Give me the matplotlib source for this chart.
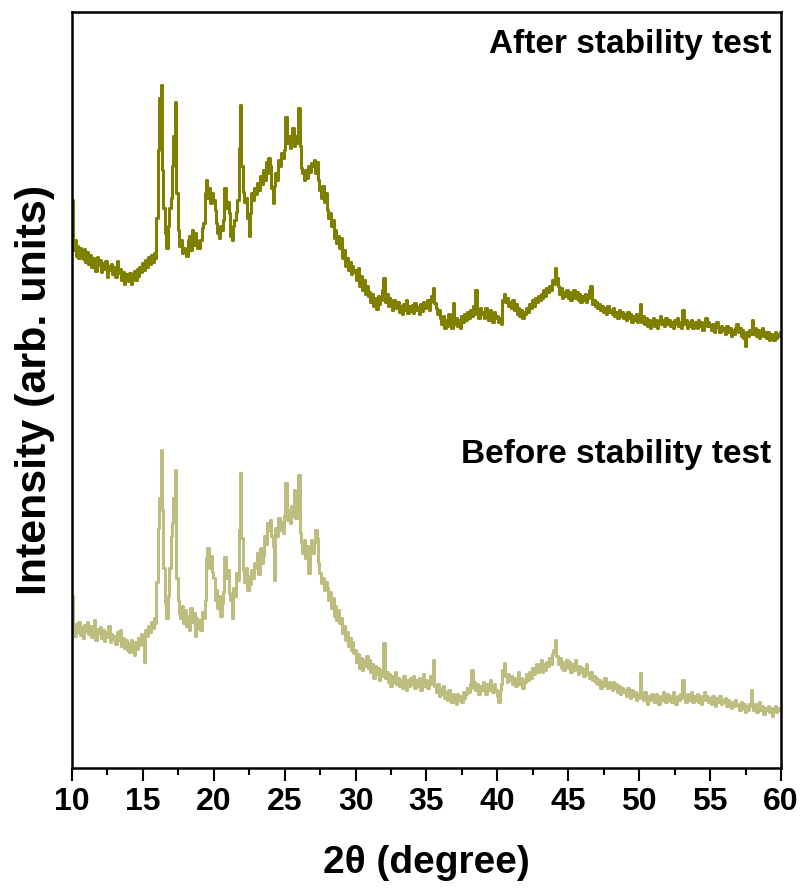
import numpy as np
import matplotlib.pyplot as plt
from matplotlib.ticker import MultipleLocator

# 2theta scan, 0.1 degree step
two_theta = np.round(np.arange(10.0, 60.05, 0.1), 1)

# intensities (arb. units), one row per degree
after_test = [
    198, 148, 158, 142, 152, 140, 150, 145, 139, 149,
    136, 146, 134, 143, 131, 140, 137, 127, 141, 133,
    138, 126, 135, 129, 137, 121, 132, 128, 134, 124,
    131, 121, 137, 125, 129, 118, 126, 114, 124, 120,
    117, 125, 114, 123, 127, 118, 129, 122, 131, 126,
    135, 128, 138, 131, 141, 134, 143, 136, 145, 140,
    180, 248, 300, 313, 228, 190, 165, 150, 172, 190,
    200, 232, 262, 296, 205, 168, 152, 158, 145, 150,
    148, 142, 158, 162, 148, 168, 153, 165, 158, 150,
    150, 158, 170, 175, 205, 218, 200, 210, 195, 205,
    198, 188, 175, 165, 160, 172, 168, 178, 210, 190,
    196, 185, 162, 158, 172, 178, 186, 198, 250, 293,
    232, 206, 196, 200, 180, 162, 185, 205, 198, 210,
    204, 215, 208, 222, 214, 228, 218, 236, 225, 240,
    232, 210, 195, 212, 225, 218, 238, 232, 245, 240,
    248, 281, 255, 262, 250, 258, 270, 252, 262, 255,
    290, 252, 230, 225, 218, 228, 220, 232, 226, 235,
    232, 238, 225, 236, 218, 208, 200, 212, 196, 205,
    188, 180, 185, 172, 178, 160, 168, 155, 162, 150,
    160, 140, 148, 132, 140, 128, 136, 124, 132, 126,
    128, 118, 130, 112, 122, 108, 118, 104, 112, 102,
    106, 96, 104, 92, 100, 89, 102, 94, 98, 108,
    120, 96, 104, 92, 100, 96, 88, 98, 94, 90,
    96, 86, 92, 84, 94, 88, 98, 85, 92, 87,
    93, 85, 95, 88, 91, 84, 94, 87, 96, 90,
    92, 98, 88, 96, 102, 110, 95, 90, 84, 88,
    80, 74, 82, 70, 78, 72, 84, 76, 70, 95,
    74, 80, 72, 78, 70, 82, 76, 84, 78, 86,
    80, 88, 82, 92, 84, 108, 86, 80, 90, 84,
    86, 80, 90, 84, 78, 88, 82, 76, 86, 80,
    82, 76, 80, 74, 98, 104, 96, 100, 92, 96,
    90, 98, 88, 94, 84, 90, 82, 88, 80, 86,
    84, 90, 86, 94, 90, 98, 92, 100, 96, 102,
    98, 104, 100, 108, 102, 110, 106, 112, 108, 118,
    114, 130, 120, 112, 104, 110, 100, 106, 102, 108,
    100, 106, 98, 104, 108, 100, 106, 98, 104, 96,
    102, 98, 104, 96, 100, 108, 112, 94, 98, 92,
    96, 90, 94, 88, 92, 86, 90, 84, 92, 86,
    88, 84, 90, 82, 86, 80, 88, 82, 86, 80,
    84, 78, 86, 80, 84, 76, 82, 78, 84, 76,
    80, 94, 76, 82, 74, 80, 72, 78, 70, 76,
    80, 72, 78, 70, 76, 82, 74, 78, 72, 80,
    74, 78, 72, 76, 70, 78, 74, 80, 72, 76,
    70, 88, 74, 78, 70, 76, 72, 78, 70, 74,
    76, 70, 78, 72, 76, 68, 74, 80, 72, 76,
    72, 68, 74, 66, 72, 76, 70, 66, 72, 68,
    70, 64, 72, 66, 70, 62, 68, 64, 70, 74,
    66, 70, 62, 68, 60, 52, 66, 62, 68, 64,
    78, 64, 70, 62, 68, 60, 66, 70, 62, 66,
    60, 66, 58, 64, 62, 58, 66, 60, 64, 62,
    66,
]

before_test = [
    172, 140, 132, 144, 136, 146, 133, 141, 130, 143,
    137, 146, 134, 142, 131, 140, 148, 128, 139, 135,
    141, 130, 138, 127, 136, 131, 142, 126, 134, 129,
    132, 124, 136, 128, 138, 122, 130, 120, 128, 118,
    125, 116, 128, 120, 113, 126, 119, 130, 123, 134,
    128, 106, 138, 132, 142, 136, 146, 140, 150, 145,
    186, 240, 270, 318, 258, 200, 165, 150, 172, 200,
    232, 245, 270, 298, 190, 168, 155, 150, 162, 145,
    158, 142, 152, 138, 160, 146, 155, 132, 150, 140,
    148, 138, 156, 150, 168, 210, 220, 200, 212, 196,
    190, 168, 178, 160, 172, 152, 165, 176, 211, 190,
    198, 175, 168, 150, 180, 172, 195, 188, 238, 295,
    230, 198, 186, 200, 178, 192, 184, 198, 190, 205,
    200, 215, 194, 220, 205, 212, 232, 224, 245, 238,
    248, 232, 222, 188, 240, 232, 250, 238, 246, 235,
    252, 285, 248, 258, 245, 262, 252, 278, 250, 258,
    293, 235, 225, 215, 228, 210, 222, 195, 218, 228,
    215, 225, 238, 230, 205, 195, 185, 190, 178, 186,
    180, 168, 176, 160, 170, 152, 162, 148, 158, 145,
    150, 135, 142, 128, 136, 122, 130, 118, 126, 115,
    118, 106, 114, 100, 110, 98, 108, 102, 112, 100,
    108, 96, 104, 90, 102, 94, 100, 88, 98, 92,
    125, 90, 96, 86, 94, 82, 92, 86, 96, 84,
    90, 82, 88, 80, 92, 84, 78, 88, 82, 90,
    84, 92, 80, 88, 82, 90, 78, 86, 94, 82,
    88, 80, 86, 92, 84, 108, 82, 76, 84, 72,
    80, 74, 82, 70, 76, 68, 78, 72, 66, 74,
    70, 64, 74, 68, 72, 66, 76, 70, 74, 80,
    76, 84, 98, 80, 86, 78, 84, 74, 82, 78,
    86, 80, 74, 84, 78, 88, 80, 76, 84, 78,
    72, 66, 78, 84, 98, 105, 92, 86, 94, 88,
    92, 84, 90, 82, 88, 96, 84, 90, 80, 88,
    86, 94, 88, 96, 90, 100, 94, 98, 104, 96,
    100, 108, 96, 104, 98, 106, 102, 110, 104, 114,
    118, 128, 112, 104, 110, 100, 106, 98, 104, 108,
    100, 106, 96, 104, 98, 108, 100, 94, 102, 96,
    100, 92, 98, 104, 94, 90, 96, 88, 92, 86,
    90, 84, 88, 80, 86, 82, 90, 84, 80, 86,
    82, 78, 86, 80, 84, 76, 82, 74, 80, 76,
    78, 72, 80, 74, 70, 78, 72, 76, 68, 74,
    70, 95, 74, 68, 76, 70, 64, 72, 68, 74,
    72, 66, 74, 70, 64, 72, 68, 76, 70, 66,
    74, 68, 72, 66, 76, 70, 64, 72, 68, 74,
    70, 88, 72, 66, 74, 68, 72, 76, 66, 72,
    68, 74, 66, 72, 64, 70, 76, 68, 72, 66,
    70, 64, 72, 66, 62, 70, 66, 72, 64, 68,
    66, 70, 62, 68, 64, 60, 66, 62, 68, 64,
    62, 58, 66, 60, 64, 56, 62, 58, 64, 78,
    62, 58, 64, 56, 62, 66, 58, 62, 54, 60,
    58, 62, 56, 60, 52, 58, 62, 56, 60, 58,
    60,
]

offset = 370  # vertical shift of the upper pattern

plt.rcParams['font.family'] = ['Liberation Sans', 'DejaVu Sans']
plt.rcParams['font.weight'] = 'bold'

fig = plt.figure(figsize=(8.04, 8.90), dpi=100)
ax = fig.add_axes([72 / 804, 1 - 768 / 890, 709 / 804, 756 / 890])

ax.plot(two_theta, before_test, color='#BDBD80', lw=2.2, drawstyle='steps-mid')
ax.plot(two_theta, np.array(after_test) + offset, color='#808000', lw=2.2, drawstyle='steps-mid')

ax.text(59.3, 723, 'After stability test', ha='right', va='center', fontsize=24, fontweight='bold')
ax.text(59.3, 313, 'Before stability test', ha='right', va='center', fontsize=24, fontweight='bold')

ax.set_xlim(10, 60)
ax.set_ylim(0, 756)
ax.set_xticks(np.arange(10, 61, 5))
ax.xaxis.set_minor_locator(MultipleLocator(2.5))
ax.set_yticks([])
ax.tick_params(axis='x', which='major', length=9, width=1.5, labelsize=23, pad=5)
ax.tick_params(axis='x', which='minor', length=5, width=1.5)
for s in ax.spines.values():
    s.set_linewidth(1.8)

ax.set_xlabel('2θ (degree)', fontsize=28, fontweight='bold', labelpad=20)
ax.set_ylabel('Intensity (arb. units)', fontsize=31, fontweight='bold', labelpad=12)

fig.savefig('out.png', dpi=100)
